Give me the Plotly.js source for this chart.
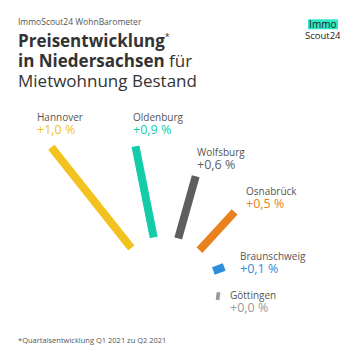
<!DOCTYPE html>
<html>
<head>
<meta charset="utf-8">
<script src="https://cdn.plot.ly/plotly-3.0.1.min.js"></script>
<style>
  html, body { margin: 0; padding: 0; background: #ffffff; }
  #chart { width: 360px; height: 360px; }
</style>
</head>
<body>
<div id="chart"></div>
<script>
// ---- data ----
const cities = ["Hannover", "Oldenburg", "Wolfsburg", "Osnabrück", "Braunschweig", "Göttingen"];
const valueLabels = ["+1,0 %", "+0,9 %", "+0,6 %", "+0,5 %", "+0,1 %", "+0,0 %"];
const barLength = [1.0, 0.724, 0.503, 0.405, 0.09, 0.03];
const barAngle = [-38.5, -11.3, 15.7, 42.5, 70, 97.5];

// ---- styles ----
const barColors = ["#F2C21E", "#14CDA8", "#5E5E5E", "#E8821E", "#2D8EDB", "#9A9A9A"];
const FONT = "Open Sans, Lato, sans-serif";
const W = 360, H = 360;
// label anchor positions in pixels (left x, vertical centre of the two-line label)
const labelPos = [
  [36, 124],
  [131.5, 124],
  [196.5, 159],
  [244.5, 198],
  [238.5, 263],
  [229.5, 302]
];

// polar geometry (pixels)
const pcx = 164, pcy = 289, pR = 190, holePx = 52.5;
const sectorSpan = [-15, 135];
const rMax = 137.5 / 128.5;
const bx0 = Math.cos(135 * Math.PI / 180), by0 = Math.sin(-15 * Math.PI / 180);
const boxL = pcx + pR * bx0, boxR = pcx + pR, boxT = pcy - pR, boxB = pcy - pR * by0;

const px = x => x / W;
const py = y => 1 - y / H;

const traces = cities.map((c, i) => ({
  type: "scatterpolar",
  mode: "lines",
  r: [0, barLength[i]],
  theta: [barAngle[i], barAngle[i]],
  line: { color: barColors[i], width: 8 },
  name: c,
  hoverinfo: "skip",
  showlegend: false
}));

const ann = [];
function addText(text, x, y, size, color, extra) {
  ann.push(Object.assign({
    text: text, xref: "paper", yref: "paper",
    x: px(x), y: py(y), xanchor: "left", yanchor: "middle",
    showarrow: false, align: "left", borderpad: 0,
    font: { family: FONT, size: size, color: color }
  }, extra || {}));
}

addText("ImmoScout24 WohnBarometer", 16.5, 21.3, 8.5, "#555555");
addText(
  '<span style="font-size:17px"><b>Preisentwicklung</b><sup><span style="font-size:9px">*</span></sup></span><br>' +
  '<span style="font-size:17px"><b>in Niedersachsen</b> für</span><br>' +
  '<span style="font-size:17px">Mietwohnung Bestand</span>',
  16.5, 60.1, 15.4, "#333333");
addText("*Quartalsentwicklung Q1 2021 zu Q2 2021", 16.5, 340, 7.5, "#555555");

cities.forEach((c, i) => {
  addText(
    c + '<br><span style="font-size:12.5px;color:' + barColors[i] + '">' + valueLabels[i] + '</span>',
    labelPos[i][0], labelPos[i][1], 10, "#555555");
});

// logo
ann.push({
  text: '<span style="font-size:10px">Immo</span><br><span style="font-size:9.5px">Scout24</span>',
  xref: "paper", yref: "paper", x: px(322.5), y: py(29.5),
  xanchor: "center", yanchor: "middle", showarrow: false, align: "center", borderpad: 0,
  font: { family: FONT, size: 8.5, color: "#222222" }
});

const layout = {
  width: W, height: H,
  margin: { l: 0, r: 0, t: 0, b: 0 },
  paper_bgcolor: "#ffffff",
  font: { family: FONT },
  showlegend: false,
  shapes: [{
    type: "rect", xref: "paper", yref: "paper", layer: "below",
    x0: px(308), x1: px(338), y0: py(29.3), y1: py(19.3),
    fillcolor: "#2DE8C3", line: { width: 0 }
  }],
  polar: {
    domain: { x: [px(boxL), px(boxR)], y: [py(boxB), py(boxT)] },
    sector: sectorSpan,
    hole: holePx / pR,
    bgcolor: "rgba(0,0,0,0)",
    radialaxis: { visible: false, range: [0, rMax], showgrid: false, showline: false, showticklabels: false, ticks: "" },
    angularaxis: { visible: false, rotation: 90, direction: "clockwise", showgrid: false, showline: false, showticklabels: false, ticks: "" }
  },
  annotations: ann
};

Plotly.newPlot("chart", traces, layout, { displayModeBar: false, staticPlot: true });
</script>
</body>
</html>
